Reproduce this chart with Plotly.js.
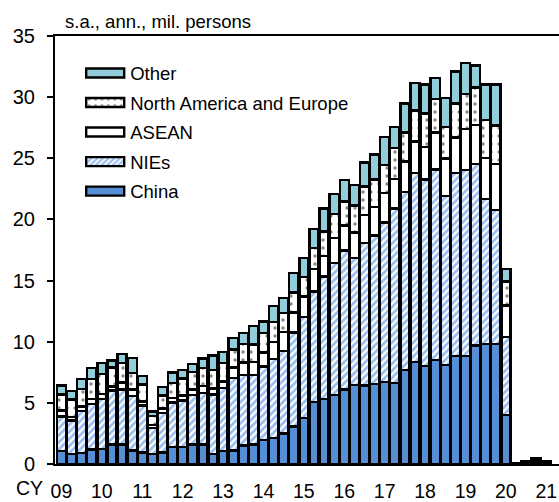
<!DOCTYPE html>
<html>
<head>
<meta charset="utf-8">
<script src="https://cdn.plot.ly/plotly-3.0.1.min.js"></script>
<style>
html,body{margin:0;padding:0;background:#fff;}
#chart{width:559px;height:502px;}
</style>
</head>
<body>
<div id="chart"></div>
<script>
// Quarters 2009Q1 .. 2021Q1 (index 0..48)
const quarters = [
 "09Q1","09Q2","09Q3","09Q4","10Q1","10Q2","10Q3","10Q4","11Q1","11Q2","11Q3","11Q4",
 "12Q1","12Q2","12Q3","12Q4","13Q1","13Q2","13Q3","13Q4","14Q1","14Q2","14Q3","14Q4",
 "15Q1","15Q2","15Q3","15Q4","16Q1","16Q2","16Q3","16Q4","17Q1","17Q2","17Q3","17Q4",
 "18Q1","18Q2","18Q3","18Q4","19Q1","19Q2","19Q3","19Q4","20Q1","20Q2","20Q3","20Q4","21Q1"
];
const yearLabels = ["09","10","11","12","13","14","15","16","17","18","19","20","21"];

const china = [1.04,0.82,0.90,1.17,1.25,1.58,1.58,1.09,0.95,0.84,0.95,1.39,
 1.39,1.58,1.58,0.83,1.04,1.09,1.50,1.60,1.95,2.13,2.50,3.08,
 3.76,5.05,5.31,5.64,6.08,6.47,6.42,6.52,6.72,6.60,7.71,8.33,
 8.00,8.50,8.12,8.84,8.84,9.70,9.82,9.82,4.03,0.02,0.05,0.15,0.05];
const nies = [2.86,2.75,3.41,3.73,4.06,4.42,4.52,4.45,3.85,2.10,3.20,3.65,
 3.81,4.04,4.22,4.84,5.16,5.94,5.80,5.67,6.03,6.46,6.76,7.68,
 8.26,9.06,10.03,10.79,11.39,10.37,11.65,12.18,13.03,14.28,14.51,15.47,
 15.27,15.58,13.81,14.96,15.22,14.82,11.87,10.97,6.37,0.02,0.05,0.15,0.08];
const asean = [0.46,0.27,0.40,0.41,0.41,0.35,0.58,0.56,0.32,0.26,0.40,0.36,
 0.40,0.46,0.58,0.51,0.55,0.87,1.01,1.07,1.15,1.37,1.53,1.64,
 1.68,1.83,1.69,2.04,2.03,2.10,2.31,2.30,2.43,2.42,2.52,2.58,
 2.66,3.03,3.04,2.90,3.35,3.22,3.32,3.73,2.55,0.02,0.03,0.08,0.04];
const nae = [1.31,1.42,1.42,1.64,1.64,1.55,1.58,1.34,1.37,0.75,1.05,1.22,
 1.40,1.45,1.47,1.52,1.50,1.48,1.51,1.44,1.57,1.66,1.55,1.63,
 1.59,1.72,1.97,1.99,1.97,2.21,2.32,2.27,2.29,2.53,2.36,2.52,
 2.74,2.76,2.61,2.77,2.84,3.05,3.14,3.16,1.98,0.02,0.04,0.07,0.04];
const other = [0.76,0.73,0.82,0.92,0.90,0.58,0.76,1.23,0.73,0.35,0.70,0.86,
 0.70,0.65,0.78,1.16,0.92,0.92,0.88,1.50,0.95,1.28,1.23,1.57,
 1.55,1.54,1.90,1.64,1.77,1.65,1.96,2.03,2.26,1.72,2.38,2.24,
 2.36,1.71,2.37,2.63,2.53,1.81,2.89,3.36,1.04,0.02,0.03,0.05,0.04];

const seriesNames = ["China","NIEs","ASEAN","North America and Europe","Other"];

const xIdx = quarters.map((q,i)=>i);
const tickIdx = yearLabels.map((y,i)=>i*4);

const outline = {color:"#000", width:2.4};
const traces = [
 {name:seriesNames[0], y:china, marker:{color:"#558ED5", line:outline}},
 {name:seriesNames[1], y:nies, marker:{color:"#ffffff", line:outline,
   pattern:{shape:"/", fgcolor:"#3A7BE0", bgcolor:"#ffffff", size:5, solidity:0.55, fillmode:"overlay"}}},
 {name:seriesNames[2], y:asean, marker:{color:"#ffffff", line:outline}},
 {name:seriesNames[3], y:nae, marker:{color:"#ffffff", line:outline,
   pattern:{shape:".", fgcolor:"#111", bgcolor:"#ffffff", size:8, solidity:0.14, fillmode:"overlay"}}},
 {name:seriesNames[4], y:other, marker:{color:"#92CDDC", line:outline}}
].map((t,i)=>Object.assign({type:"bar", x:xIdx, hoverinfo:"skip", legendgroup:"g"+i, legendrank:5-i}, t));

const font = "Arial, 'Liberation Sans', sans-serif";
const layout = {
  width:559, height:502,
  margin:{l:55, r:0, t:36, b:38, pad:0},
  paper_bgcolor:"#fff", plot_bgcolor:"#fff",
  barmode:"stack", bargap:0.1,
  showlegend:true,
  legend:{x:0.05, y:0.957, xanchor:"left", yanchor:"top", traceorder:"grouped",
    font:{family:font, size:18.5, color:"#000"}, bgcolor:"rgba(0,0,0,0)",
    itemwidth:40, tracegroupgap:2.5},
  xaxis:{range:[-0.64,49.26], tickvals:tickIdx, ticktext:yearLabels, ticks:"",
    showline:true, linecolor:"#000", linewidth:2, mirror:true, showgrid:false, zeroline:false,
    tickfont:{family:font, size:19.5, color:"#000"}, ticklabelstandoff:9, fixedrange:true},
  yaxis:{range:[0,35], dtick:5, tick0:0, ticks:"outside", ticklen:6, tickwidth:2, tickcolor:"#000",
    showline:true, linecolor:"#000", linewidth:2, showgrid:false, zeroline:false,
    tickfont:{family:font, size:20, color:"#000"}, ticklabelstandoff:8, fixedrange:true},
  annotations:[
    {text:"s.a., ann., mil. persons", xref:"paper", yref:"paper", x:0.015, y:1.0, xanchor:"left", yanchor:"bottom",
     yshift:2, showarrow:false, font:{family:font, size:18.5, color:"#000"}},
    {text:"CY", xref:"paper", yref:"paper", x:-0.082, y:0, xanchor:"left", yanchor:"top", yshift:-11,
     showarrow:false, font:{family:font, size:19.5, color:"#000"}}
  ]
};

Plotly.newPlot("chart", traces, layout, {displayModeBar:false, staticPlot:true}).then(gd=>{
  gd.querySelectorAll(".legend .legendpoints path").forEach(p=>{
    p.setAttribute("d","M-19,-4.5H19V4.5H-19Z");
  });
});
</script>
</body>
</html>
